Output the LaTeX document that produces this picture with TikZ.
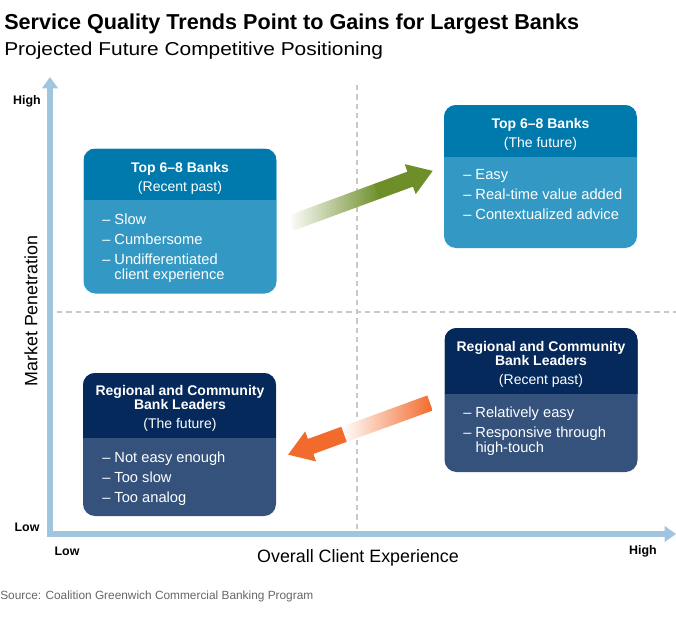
\documentclass[tikz,border=0pt]{standalone}
\usepackage{fontspec}
\setmainfont{Liberation Sans}
\newfontfamily\widesans[FakeStretch=1.12]{Liberation Sans}
\usetikzlibrary{arrows.meta,positioning}

\definecolor{tophead}{HTML}{0079AC}
\definecolor{topbody}{HTML}{3399C4}
\definecolor{reghead}{HTML}{05295A}
\definecolor{regbody}{HTML}{34527C}
\definecolor{axisblue}{HTML}{A2C5DF}
\definecolor{gridgrey}{HTML}{C8C8C8}
\definecolor{gainsgreen}{HTML}{6E8E2A}
\definecolor{lossorange}{HTML}{F26B2C}
\definecolor{sourcegrey}{HTML}{666666}

\tikzset{
  quad/.style n args={3}{fill=#2, rounded corners=9pt, minimum width=144.75pt,
    inner sep=0pt,
    path picture={\fill[#1, sharp corners] (path picture bounding box.north west)
      rectangle ([yshift=-#3]path picture bounding box.north east);}},
  headtxt/.style={text=white, align=center, anchor=north, inner sep=0pt,
    font=\bfseries\fontsize{10.5}{10.5}\selectfont},
  listtxt/.style={text=white, align=left, anchor=north west, inner sep=0pt,
    font=\fontsize{11}{15}\selectfont},
  axisline/.style={axisblue, line width=4.8pt, line join=miter,
    {Triangle[length=8.5pt, width=11.5pt]}-{Triangle[length=8.5pt, width=11.5pt]}},
  gridline/.style={gridgrey, line width=0.9pt, dash pattern=on 4pt off 3pt},
  ticklbl/.style={font=\bfseries\fontsize{9.3}{9.3}\selectfont, inner sep=0pt},
  axislbl/.style={font=\fontsize{13.4}{13.4}\selectfont, inner sep=0pt}
}

\begin{document}
\begin{tikzpicture}[x=0.75pt, y=-0.75pt]
  \useasboundingbox (0,0) rectangle (676,618);

  % title
  \node[anchor=base west, inner sep=0pt, font=\bfseries\fontsize{16.2}{16.2}\selectfont]
    (title) at (4,29) {Service Quality Trends Point to Gains for Largest Banks};
  \node[anchor=base west, inner sep=0pt, font=\widesans\fontsize{14}{14}\selectfont]
    (subtitle) at (4,55) {Projected Future Competitive Positioning};

  % quadrant lines
  \coordinate (midtop) at (357,85);
  \coordinate (midbot) at (357,530);
  \coordinate (midleft) at (57,312);
  \coordinate (midright) at (676,312);
  \draw[gridline] (midtop) -- (midbot);
  \draw[gridline] (midleft) -- (midright);

  % axes
  \coordinate (o) at (50,534);
  \coordinate (ytop) at (50,77);
  \coordinate (xend) at (676,534);
  \draw[axisline] (ytop) -- (o) -- (xend);

  \node[ticklbl] (yhigh) at (27,101) {High};
  \node[ticklbl] (ylow) at (27,527) {Low};
  \node[ticklbl] (xlow) at (67,551) {Low};
  \node[ticklbl] (xhigh) at (643,551) {High};
  \node[axislbl, rotate=90] (ylbl) at (31,311) {Market Penetration};
  \node[axislbl] (xlbl) at (358,558) {Overall Client Experience};

  % boxes
  \node[quad={tophead}{topbody}{38.25pt}, minimum height=108.75pt] (pastbig) at (180,221) {};
  \node[quad={tophead}{topbody}{39pt}, minimum height=107.25pt] (futbig) at (540.5,176.5) {};
  \node[quad={reghead}{regbody}{49.5pt}, minimum height=108pt] (pastreg) at (541,400) {};
  \node[quad={reghead}{regbody}{48.75pt}, minimum height=107.25pt] (futreg) at (179.5,444.5) {};

  \node[headtxt] (pastbighd) at (180,162) {Top 6--8 Banks\\[3.75pt]\mdseries(Recent past)};
  \node[listtxt] (pastbigls) at (102,213.5)
    {-- Slow\\-- Cumbersome\\-- Undifferentiated\\[-3.75pt]\hphantom{-- }client experience};

  \node[headtxt] (futbighd) at (540.5,118) {Top 6--8 Banks\\[3.75pt]\mdseries(The future)};
  \node[listtxt] (futbigls) at (463,169.5)
    {-- Easy\\-- Real-time value added\\-- Contextualized advice};

  \node[headtxt] (pastreghd) at (541,341)
    {Regional and Community\\Bank Leaders\\[3.75pt]\mdseries(Recent past)};
  \node[listtxt] (pastregls) at (463,406.5)
    {-- Relatively easy\\-- Responsive through\\[-3.75pt]\hphantom{-- }high-touch};

  \node[headtxt] (futreghd) at (180,385)
    {Regional and Community\\Bank Leaders\\[3.75pt]\mdseries(The future)};
  \node[listtxt] (futregls) at (102,451.5)
    {-- Not easy enough\\-- Too slow\\-- Too analog};

  % trend arrows
  \coordinate (gainstail) at (291,223);
  \begin{scope}[shift={(gainstail)}, rotate=20.2]
    \shade[left color=white, right color=gainsgreen] (0,-8) rectangle (92,8);
    \fill[gainsgreen] (91.5,-8) -- (127,-8) -- (127,-16) -- (151,0)
      -- (127,16) -- (127,8) -- (91.5,8) -- cycle;
  \end{scope}
  \coordinate (losstail) at (430,403);
  \begin{scope}[shift={(losstail)}, rotate=200]
    \shade[left color=white, right color=lossorange] (0,-8) rectangle (92,8);
    \fill[lossorange] (91.5,-8) -- (127,-8) -- (127,-16) -- (151,0)
      -- (127,16) -- (127,8) -- (91.5,8) -- cycle;
  \end{scope}

  % source
  \node[anchor=base west, inner sep=0pt, text=sourcegrey, font=\fontsize{8.9}{8.9}\selectfont]
    (source) at (0,599) {Source: Coalition Greenwich Commercial Banking Program};
\end{tikzpicture}
\end{document}
